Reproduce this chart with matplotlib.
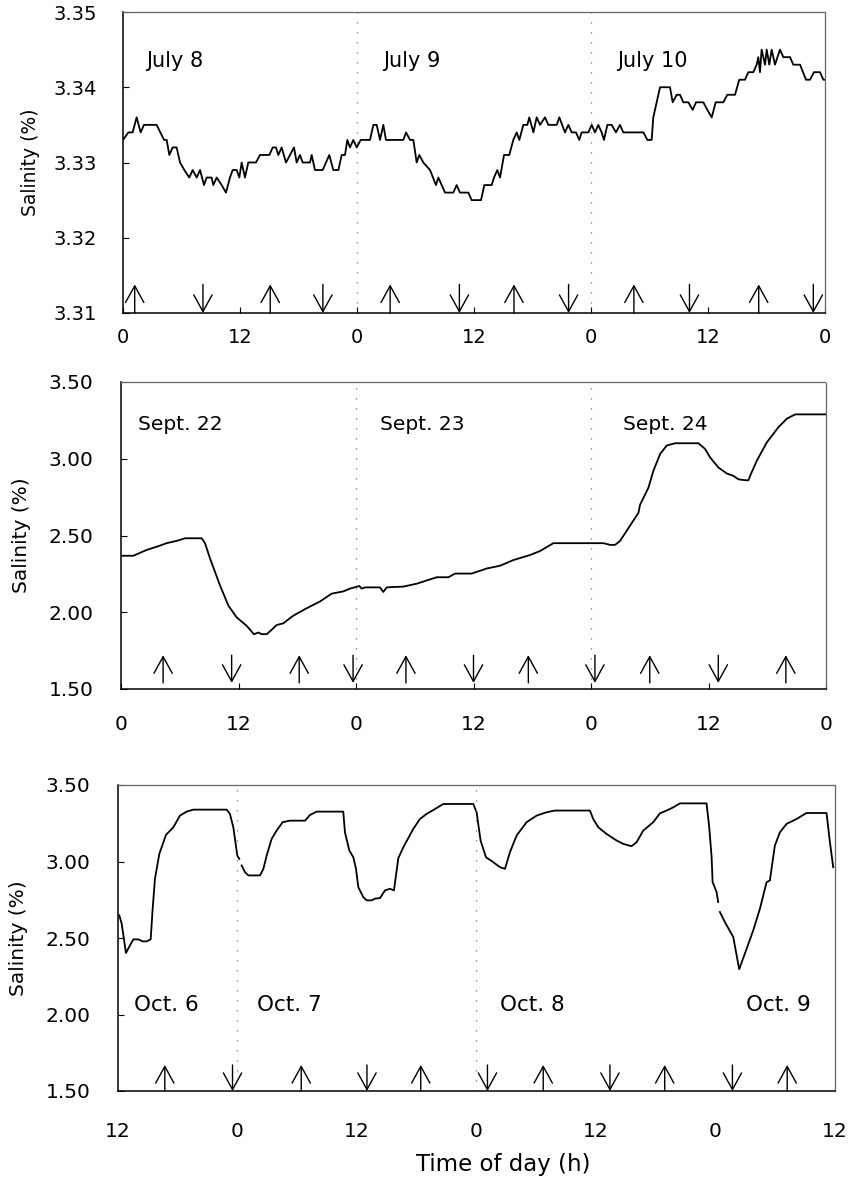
import numpy as np
import matplotlib
matplotlib.use("Agg")
import matplotlib.pyplot as plt

plt.rcParams['font.family'] = ['DejaVu Sans']

# ---------------- data ----------------
# Panel 1: July 8-10 (hours from 0h July 8)
july_hours = [0, 0.55, 0.99, 1.40, 1.81, 2.15, 3.45, 4.21, 4.48, 4.75, 5.09, 5.50, 5.85, 6.29, 6.80,
              7.15, 7.56, 7.90, 8.31, 8.58, 9.09, 9.26, 9.61, 10.12, 10.56, 10.97, 11.25, 11.66, 11.93,
              12.17, 12.51, 12.85, 13.64, 14.05, 15.01, 15.35, 15.69, 15.93, 16.27, 16.72, 17.13, 17.54,
              17.81, 18.15, 18.43, 19.18, 19.35, 19.69, 20.48, 21.16, 21.57, 22.09, 22.43, 22.77, 23.01,
              23.28, 23.62, 23.97, 24.38, 25.33, 25.68, 26.02, 26.36, 26.70, 26.97, 28.75, 29.03, 29.44,
              29.78, 30.12, 30.39, 30.80, 31.49, 32.10, 32.34, 33.03, 33.88, 34.22, 34.56, 35.42, 35.76,
              36.72, 37.06, 37.81, 38.05, 38.39, 38.67, 39.08, 39.62, 40.03, 40.38, 40.65, 41.06, 41.47,
              41.67, 42.09, 42.43, 42.77, 43.28, 43.62, 44.48, 44.75, 45.33, 45.68, 46.02, 46.46, 46.80,
              47.04, 47.73, 48.07, 48.41, 48.75, 49.09, 49.33, 49.68, 50.12, 50.56, 50.97, 51.32, 53.37,
              53.78, 54.22, 54.39, 54.73, 55.08, 56.10, 56.38, 56.79, 57.13, 57.47, 57.98, 58.43, 58.77,
              59.52, 59.93, 60.38, 60.79, 61.57, 61.98, 62.77, 63.21, 63.79, 64.14, 64.65, 64.99, 65.16,
              65.33, 65.50, 65.85, 66.02, 66.29, 66.53, 66.87, 67.38, 67.73, 68.41, 68.75, 69.44, 70.05,
              70.46, 70.87, 71.49, 71.83, 72.0]
july_sal = [3.333, 3.334, 3.334, 3.336, 3.334, 3.335, 3.335, 3.333, 3.333, 3.331, 3.332, 3.332, 3.330,
            3.329, 3.328, 3.329, 3.328, 3.329, 3.327, 3.328, 3.328, 3.327, 3.328, 3.327, 3.326, 3.328,
            3.329, 3.329, 3.328, 3.330, 3.328, 3.330, 3.330, 3.331, 3.331, 3.332, 3.332, 3.331, 3.332,
            3.330, 3.331, 3.332, 3.330, 3.331, 3.330, 3.330, 3.331, 3.329, 3.329, 3.331, 3.329, 3.329,
            3.331, 3.331, 3.333, 3.332, 3.333, 3.332, 3.333, 3.333, 3.335, 3.335, 3.333, 3.335, 3.333,
            3.333, 3.334, 3.333, 3.333, 3.330, 3.331, 3.330, 3.329, 3.327, 3.328, 3.326, 3.326, 3.327,
            3.326, 3.326, 3.325, 3.325, 3.327, 3.327, 3.328, 3.329, 3.328, 3.331, 3.331, 3.333, 3.334,
            3.333, 3.335, 3.335, 3.336, 3.334, 3.336, 3.335, 3.336, 3.335, 3.335, 3.336, 3.334, 3.335,
            3.334, 3.334, 3.333, 3.334, 3.334, 3.335, 3.334, 3.335, 3.334, 3.333, 3.335, 3.335, 3.334,
            3.335, 3.334, 3.334, 3.333, 3.333, 3.336, 3.338, 3.340, 3.340, 3.338, 3.339, 3.339, 3.338,
            3.338, 3.337, 3.338, 3.338, 3.337, 3.336, 3.338, 3.338, 3.339, 3.339, 3.341, 3.341, 3.342,
            3.342, 3.343, 3.344, 3.342, 3.345, 3.343, 3.345, 3.343, 3.345, 3.343, 3.345, 3.344, 3.344,
            3.343, 3.343, 3.341, 3.341, 3.342, 3.342, 3.341, 3.341]
july_flood = [1.2, 15.1, 27.4, 40.1, 52.4, 65.2]     # up arrows
july_ebb = [8.2, 20.5, 34.5, 45.7, 58.1, 70.8]       # down arrows
july_days = ['July 8', 'July 9', 'July 10']

# Panel 2: Sept. 22-24 (hours from 0h Sept. 22)
sept_hours = [0, 1.26, 2.62, 3.98, 4.66, 5.69, 6.54, 8.24, 8.58, 9.09, 10.11, 10.96, 11.81, 12.83,
              13.58, 14.03, 14.37, 14.88, 15.39, 15.90, 16.58, 17.60, 18.96, 20.32, 21.51, 22.71, 23.39,
              24.34, 24.58, 24.92, 26.45, 26.79, 27.13, 28.83, 30.20, 32.24, 33.44, 34.12, 35.82, 37.35,
              38.71, 40.07, 41.78, 42.80, 44.16, 49.27, 49.95, 50.46, 50.97, 51.82, 52.84, 53.01, 53.86,
              54.37, 55.06, 55.73, 56.59, 58.97, 59.65, 60.16, 61.01, 61.87, 62.55, 63.06, 63.74, 64.08,
              64.32, 64.93, 65.96, 67.15, 68.00, 68.85, 72.0]
sept_sal = [2.368, 2.368, 2.406, 2.434, 2.450, 2.465, 2.482, 2.482, 2.450, 2.351, 2.175, 2.044, 1.967,
            1.912, 1.857, 1.868, 1.857, 1.857, 1.886, 1.917, 1.928, 1.978, 2.026, 2.070, 2.121, 2.136,
            2.154, 2.171, 2.154, 2.162, 2.162, 2.132, 2.162, 2.167, 2.186, 2.228, 2.228, 2.252, 2.252,
            2.285, 2.303, 2.340, 2.373, 2.399, 2.450, 2.450, 2.439, 2.439, 2.465, 2.548, 2.647, 2.700,
            2.811, 2.921, 3.031, 3.086, 3.101, 3.101, 3.064, 3.009, 2.943, 2.904, 2.888, 2.866, 2.860,
            2.860, 2.899, 2.987, 3.107, 3.206, 3.261, 3.289, 3.289]
sept_flood = [4.3, 18.2, 29.1, 41.6, 54.0, 67.9]
sept_ebb = [11.3, 23.7, 36.0, 48.4, 61.0]
sept_days = ['Sept. 22', 'Sept. 23', 'Sept. 24']

# Panel 3: Oct. 6-9 (hours from 0h Oct. 6); NaN = gap in record
oct_hours = [12.13, 12.37, 12.80, 13.20, 13.54, 14.04, 14.48, 14.88, 15.28, 15.48, 15.71, 16.15, 16.82,
             17.56, 18.22, 18.89, 19.56, 22.91, 23.24, 23.58, 23.98, 24.18, 24.30, 24.42, 24.75, 25.09,
             26.26, 26.60, 26.93, 27.43, 27.93, 28.53, 29.27, 30.78, 31.28, 31.95, 34.62, 34.79, 35.23,
             35.63, 35.90, 36.13, 36.63, 36.97, 37.47, 37.80, 38.31, 38.81, 39.31, 39.71, 40.15, 40.65,
             41.65, 42.32, 42.99, 43.83, 44.66, 47.68, 48.01, 48.41, 48.95, 49.68, 50.35, 50.86, 51.36,
             52.03, 53.03, 54.04, 55.04, 55.88, 59.39, 59.72, 60.23, 61.06, 62.07, 62.74, 63.57, 64.08,
             64.74, 65.75, 66.42, 67.09, 67.76, 68.43, 71.10, 71.37, 71.61, 71.71, 72.11, 72.27, 72.35,
             72.44, 72.94, 73.78, 74.38, 74.95, 75.79, 76.46, 77.13, 77.46, 77.96, 78.47, 79.14, 80.14,
             81.14, 83.15, 83.49, 83.82]
oct_sal = [2.648, 2.593, 2.402, 2.452, 2.491, 2.491, 2.478, 2.478, 2.491, 2.691, 2.887, 3.050, 3.174,
           3.224, 3.300, 3.326, 3.339, 3.339, 3.311, 3.224, 3.039, 3.017, np.nan, 2.974, 2.930, 2.909,
           2.909, 2.952, 3.039, 3.148, 3.202, 3.257, 3.267, 3.267, 3.304, 3.326, 3.326, 3.191, 3.072,
           3.028, 2.952, 2.833, 2.767, 2.746, 2.746, 2.757, 2.761, 2.811, 2.822, 2.811, 3.022, 3.093,
           3.213, 3.278, 3.311, 3.343, 3.376, 3.376, 3.322, 3.137, 3.028, 2.996, 2.963, 2.952, 3.061,
           3.170, 3.257, 3.300, 3.322, 3.333, 3.333, 3.278, 3.224, 3.180, 3.137, 3.115, 3.100, 3.126,
           3.202, 3.257, 3.315, 3.333, 3.354, 3.380, 3.380, 3.224, 3.028, 2.865, 2.800, 2.735, np.nan,
           2.670, 2.604, 2.507, 2.296, 2.398, 2.550, 2.691, 2.865, 2.876, 3.104, 3.191, 3.246, 3.278,
           3.317, 3.317, 3.126, 2.963]
oct_flood = [16.7, 30.4, 42.4, 54.7, 66.9, 79.2]
oct_ebb = [23.5, 37.0, 49.1, 61.4, 73.7]
oct_days = ['Oct. 6', 'Oct. 7', 'Oct. 8', 'Oct. 9']

# ---------------- figure ----------------
W, H = 853, 1179
fig = plt.figure(figsize=(W / 100, H / 100), dpi=100)


def px_axes(l, t, r, b):
    return fig.add_axes([l / W, 1 - b / H, (r - l) / W, (b - t) / H])


def style(ax, xpad, ypad, size):
    for s in ('left', 'bottom'):
        ax.spines[s].set_linewidth(1.1)
        ax.spines[s].set_color('black')
    for s in ('top', 'right'):
        ax.spines[s].set_linewidth(0.9)
        ax.spines[s].set_color('0.4')
        ax.spines[s].set_linestyle((0, (1, 1)))
    ax.tick_params(axis='both', direction='in', length=4, width=0.8, labelsize=size)
    ax.tick_params(axis='x', pad=xpad)
    ax.tick_params(axis='y', pad=ypad)


def arrows(ax, ups, downs, y0, y1):
    prop = dict(arrowstyle='->, head_length=0.6, head_width=0.33', lw=1.0, color='black',
                shrinkA=0, shrinkB=0, mutation_scale=20)
    for h in ups:
        ax.annotate('', xy=(h, y1), xytext=(h, y0), xycoords=('data', 'axes fraction'),
                    textcoords=('data', 'axes fraction'), arrowprops=prop)
    for h in downs:
        ax.annotate('', xy=(h, y0), xytext=(h, y1), xycoords=('data', 'axes fraction'),
                    textcoords=('data', 'axes fraction'), arrowprops=prop)


def day_lines(ax, xs):
    for x in xs:
        ax.axvline(x, color='0.45', lw=0.9, ls=(0, (1, 7)))


# Panel 1
ax1 = px_axes(123, 12, 825, 313)
ax1.plot(july_hours, july_sal, color='black', lw=1.3)
ax1.set_xlim(0, 72)
ax1.set_ylim(3.31, 3.35)
ax1.set_xticks(np.arange(0, 73, 12))
ax1.set_xticklabels(['0', '12', '0', '12', '0', '12', '0'])
ax1.set_yticks([3.31, 3.32, 3.33, 3.34, 3.35])
ax1.set_yticklabels(['3.31', '3.32', '3.33', '3.34', '3.35'])
style(ax1, 11, 19, 14)
day_lines(ax1, [24, 48])
arrows(ax1, july_flood, july_ebb, 0.0, 0.095)
for name, x in zip(july_days, [5.3, 29.6, 54.3]):
    ax1.text(x, 3.3435, name, ha='center', va='center', fontsize=15)
ax1.set_ylabel('Salinity (%)', fontsize=13.5)
ax1.yaxis.set_label_coords(-0.118, 0.5)

# Panel 2
ax2 = px_axes(121, 382, 826, 689)
ax2.plot(sept_hours, sept_sal, color='black', lw=1.3)
ax2.set_xlim(0, 72)
ax2.set_ylim(1.5, 3.5)
ax2.set_xticks(np.arange(0, 73, 12))
ax2.set_xticklabels(['0', '12', '0', '12', '0', '12', '0'])
ax2.set_yticks([1.5, 2.0, 2.5, 3.0, 3.5])
ax2.set_yticklabels(['1.50', '2.00', '2.50', '3.00', '3.50'])
style(ax2, 19, 20, 14.5)
day_lines(ax2, [24, 48])
arrows(ax2, sept_flood, sept_ebb, 0.02, 0.11)
for name, x in zip(sept_days, [6.1, 30.8, 55.6]):
    ax2.text(x, 3.22, name, ha='center', va='center', fontsize=14.5)
ax2.set_ylabel('Salinity (%)', fontsize=14.5)
ax2.yaxis.set_label_coords(-0.128, 0.5)

# Panel 3
ax3 = px_axes(118, 785, 835, 1091)
ax3.plot(oct_hours, oct_sal, color='black', lw=1.3)
ax3.set_xlim(12, 84)
ax3.set_ylim(1.5, 3.5)
ax3.set_xticks(np.arange(12, 85, 12))
ax3.set_xticklabels(['12', '0', '12', '0', '12', '0', '12'])
ax3.set_yticks([1.5, 2.0, 2.5, 3.0, 3.5])
ax3.set_yticklabels(['1.50', '2.00', '2.50', '3.00', '3.50'])
style(ax3, 22, 20, 14.5)
ax3.tick_params(axis='x', length=0)
day_lines(ax3, [24, 48])
arrows(ax3, oct_flood, oct_ebb, 0.0, 0.085)
for name, x in zip(oct_days, [16.9, 29.2, 53.6, 78.3]):
    ax3.text(x, 2.06, name, ha='center', va='center', fontsize=15.5)
ax3.set_ylabel('Salinity (%)', fontsize=14.5)
ax3.yaxis.set_label_coords(-0.125, 0.5)
fig.text(503 / W, 1 - 1165 / H, 'Time of day (h)', ha='center', va='center', fontsize=16.5)

fig.savefig('out.png', dpi=100)
